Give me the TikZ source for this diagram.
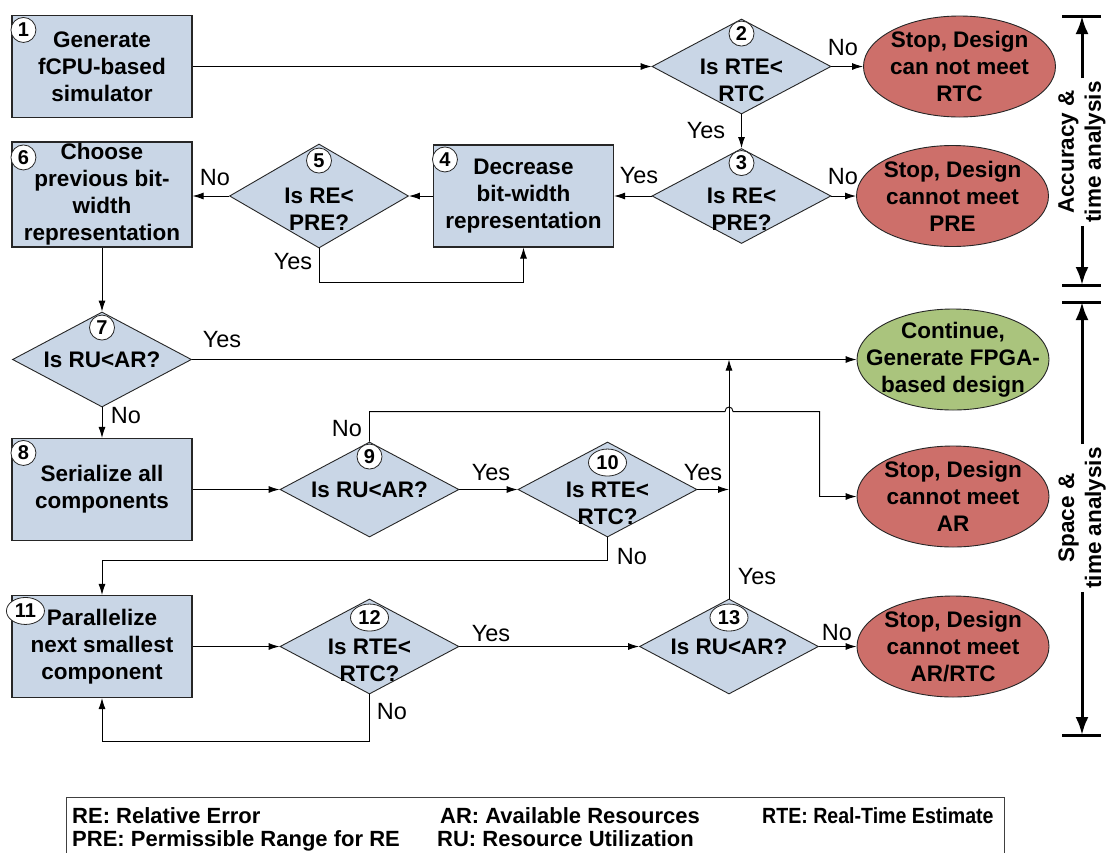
\documentclass[tikz,border=0pt]{standalone}
\usepackage{fontspec}
\setmainfont{Liberation Sans}
\usetikzlibrary{shapes.geometric,arrows.meta,calc}

\definecolor{procblue}{HTML}{C9D6E6}
\definecolor{stopred}{HTML}{CD6F6A}
\definecolor{gogreen}{HTML}{AAC47D}

\begin{document}
\begin{tikzpicture}[
x=1pt, y=-1pt,
procbox/.style={
draw=black!85,
fill=procblue,
line width=1.1pt,
minimum width=180pt,
minimum height=102pt,
inner sep=0pt,
align=center,
font=\fontsize{22.5}{27}\selectfont\bfseries
},
decide/.style={
diamond,
draw=black!85,
fill=procblue,
line width=0.9pt,
minimum width=179pt,
minimum height=95pt,
inner sep=0pt
},
stopend/.style={
ellipse,
draw=black!85,
fill=stopred,
line width=0.9pt,
minimum width=192pt,
minimum height=101pt,
inner sep=0pt
},
goend/.style={stopend, fill=gogreen},
btext/.style={
align=center,
inner sep=0pt,
font=\fontsize{22.5}{27}\selectfont\bfseries
},
numc/.style={
circle,
draw=black!85,
fill=white,
line width=0.8pt,
inner sep=0pt,
minimum size=25pt,
font=\fontsize{20}{20}\selectfont\bfseries
},
numw/.style={numc, ellipse, minimum width=38pt, minimum height=27pt},
lbl/.style={inner sep=0pt, font=\fontsize{23.5}{24}\selectfont},
flow/.style={line width=0.9pt, -{Latex[length=11pt,width=7pt]}},
rangearrow/.style={line width=3pt, -{Latex[length=18pt,width=13pt]}},
rangebar/.style={line width=3pt},
legtext/.style={
anchor=base west,
inner sep=0pt,
font=\fontsize{22}{23}\selectfont\bfseries
}
]

\path[use as bounding box, fill=white] (0,0) rectangle (1106,852);

\node[procbox] (S1) at (102,66.5)
{Generate\\fCPU-based\\simulator};

\node[decide] (Q2) at (741.5,66.5) {};
\node[btext, yshift=-13.5pt] (T2) at (Q2)
{Is RTE<\\RTC};

\node[stopend] (X1) at (959.5,66.5) {};
\node[btext] (TX1) at (X1)
{Stop, Design\\can not meet\\RTC};

\node[decide] (Q3) at (741.5,196) {};
\node[btext, yshift=-13.5pt] (T3) at (Q3)
{Is RE<\\PRE?};

\node[stopend] (X2) at (952.5,196) {};
\node[btext] (TX2) at (X2)
{Stop, Design\\cannot meet\\PRE};

\node[procbox] (S4) at (523.5,196)
{Decrease\\bit-width\\representation};

\node[decide, minimum height=104pt] (Q5) at (319,196) {};
\node[btext, yshift=-13.5pt] (T5) at (Q5)
{Is RE<\\PRE?};

\node[procbox, minimum height=105pt] (S6) at (102,194.5)
{Choose\\previous bit-\\width\\representation};

\node[decide] (Q7) at (102,359.5) {};
\node[btext] (T7) at (Q7)
{Is RU<AR?};

\node[goend] (X3) at (953,359.5) {};
\node[btext] (TX3) at (X3)
{Continue,\\Generate FPGA-\\based design};

\node[procbox] (S8) at (102,489.5)
{Serialize all\\components};

\node[decide] (Q9) at (369.5,489.5) {};
\node[btext] (T9) at (Q9)
{Is RU<AR?};

\node[decide] (Q10) at (607.5,489.5) {};
\node[btext, yshift=-13.5pt] (T10) at (Q10)
{Is RTE<\\RTC?};

\node[stopend] (X4) at (953,496.5) {};
\node[btext] (TX4) at (X4)
{Stop, Design\\cannot meet\\AR};

\node[procbox] (S11) at (102,646.5)
{Parallelize\\next smallest\\component};

\node[decide] (Q12) at (369.5,646.5) {};
\node[btext, yshift=-13.5pt] (T12) at (Q12)
{Is RTE<\\RTC?};

\node[decide] (Q13) at (729,646.5) {};
\node[btext] (T13) at (Q13)
{Is RU<AR?};

\node[stopend] (X5) at (953,646.5) {};
\node[btext] (TX5) at (X5)
{Stop, Design\\cannot meet\\AR/RTC};

\node[numc, xshift=12pt, yshift=-15pt] (N1) at (S1.north west) {1};
\node[numc, yshift=-15pt] (N2) at (Q2.north) {2};
\node[numc, yshift=-15pt] (N3) at (Q3.north) {3};
\node[numc, xshift=12pt, yshift=-15pt] (N4) at (S4.north west) {4};
\node[numc, yshift=-17pt] (N5) at (Q5.north) {5};
\node[numc, xshift=12pt, yshift=-16pt] (N6) at (S6.north west) {6};
\node[numc, yshift=-16pt] (N7) at (Q7.north) {7};
\node[numc, xshift=12pt, yshift=-15pt] (N8) at (S8.north west) {8};
\node[numc, yshift=-15pt] (N9) at (Q9.north) {9};
\node[numw, yshift=-21pt] (N10) at (Q10.north) {10};
\node[numw, xshift=14pt, yshift=-16pt] (N11) at (S11.north west) {11};
\node[numw, yshift=-19pt] (N12) at (Q12.north) {12};
\node[numw, yshift=-19pt] (N13) at (Q13.north) {13};

\draw[flow] (S1.east) -- (Q2.west);
\draw[flow] (Q2.east) -- (X1.west);
\draw[flow] (Q2.south) -- (Q3.north);
\draw[flow] (Q3.east) -- (X2.west);
\draw[flow] (Q3.west) -- (S4.east);
\draw[flow] (S4.west) -- (Q5.east);
\draw[flow] (Q5.west) -- (Q5.west -| S6.east);
\draw[flow] (Q5.south) -- ++(0,34) -| (S4.south);
\draw[flow] (S6.south) -- (Q7.north);
\draw[flow] (Q7.east) -- (X3.west);
\draw[flow] (Q7.south) -- (S8.north);
\draw[flow] (S8.east) -- (Q9.west);
\draw[flow] (Q9.east) -- (Q10.west);
\draw[flow] (Q10.east) -- (Q10.east -| Q13.north);
\draw[flow] (Q13.north) -- (Q13.north |- X3.west);
\draw[flow] (Q9.north) -- ++(0,-30) coordinate (H9)
-- ($(H9 -| Q13.north)+(-4,0)$) .. controls +(0,-6) and +(0,-6) .. ($(H9 -| Q13.north)+(4,0)$)
-| ($(X4.west)+(-37,0)$) -- (X4.west);
\draw[flow] (Q10.south) -- ++(0,23) -| (S11.north);
\draw[flow] (S11.east) -- (Q12.west);
\draw[flow] (Q12.east) -- (Q13.west);
\draw[flow] (Q13.east) -- (X5.west);
\draw[flow] (Q12.south) -- ++(0,47) -| (S11.south);

\node[lbl] (L2) at (843,48) {No};
\node[lbl] (L2y) at (706,131) {Yes};
\node[lbl] (L3) at (843,177) {No};
\node[lbl] (L3y) at (639,176) {Yes};
\node[lbl] (L5) at (215,178) {No};
\node[lbl] (L5y) at (293,262) {Yes};
\node[lbl] (L7y) at (222,340) {Yes};
\node[lbl] (L7) at (126,416) {No};
\node[lbl] (L9) at (347,429) {No};
\node[lbl] (L9y) at (491,473) {Yes};
\node[lbl] (L10y) at (703,473) {Yes};
\node[lbl] (L10) at (632,557) {No};
\node[lbl] (L13y) at (757,577) {Yes};
\node[lbl] (L12y) at (491,634) {Yes};
\node[lbl] (L13) at (837,633) {No};
\node[lbl] (L12) at (392,712) {No};

\node[btext, rotate=90, inner sep=3pt] (ACC) at (1082,152)
{Accuracy \&\\time analysis};
\coordinate (AT) at (1082,16);
\coordinate (AB) at (1082,285);
\draw[rangearrow] (ACC.east) -- (AT);
\draw[rangearrow] (ACC.west) -- (AB);
\draw[rangebar] ($(AT)+(-20,0)$) -- ($(AT)+(19,0)$);
\draw[rangebar] ($(AB)+(-20,0)$) -- ($(AB)+(19,0)$);

\node[btext, rotate=90, inner sep=3pt] (SPC) at (1082,518)
{Space \&\\time analysis};
\coordinate (ST) at (1082,302);
\coordinate (SB) at (1082,735);
\draw[rangearrow] (SPC.east) -- (ST);
\draw[rangearrow] (SPC.west) -- (SB);
\draw[rangebar] ($(ST)+(-20,0)$) -- ($(ST)+(19,0)$);
\draw[rangebar] ($(SB)+(-20,0)$) -- ($(SB)+(19,0)$);

\node[draw=black!75, line width=0.9pt, anchor=north west, inner sep=0pt,
minimum width=938pt, minimum height=70pt] (LEG) at (66,797) {};
\node[legtext] (LRE) at (72,823) {RE: Relative Error};
\node[legtext] (LAR) at (440,823) {AR: Available Resources};
\node[legtext, xscale=0.89, transform shape] (LRTE) at (762,823) {RTE: Real-Time Estimate};
\node[legtext] (LPRE) at (72,846) {PRE: Permissible Range for RE};
\node[legtext] (LRU) at (437,846) {RU: Resource Utilization};

\end{tikzpicture}
\end{document}
